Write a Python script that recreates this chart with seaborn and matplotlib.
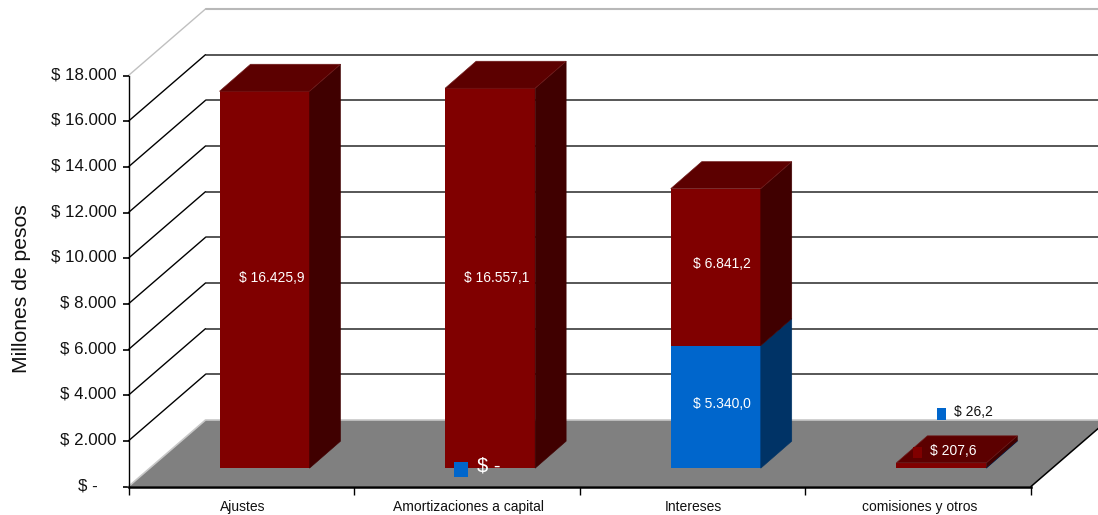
import matplotlib
matplotlib.use("Agg")
import matplotlib.pyplot as plt
from matplotlib.patches import Rectangle
from matplotlib.transforms import ScaledTranslation
import numpy as np
import pandas as pd
import seaborn as sns

# Values in millions of pesos
categories = ["Ajustes", "Amortizaciones a capital", "Intereses", "comisiones y otros"]
blue_values = [0.0, 0.0, 5340.0, 26.2]
red_values = [16425.9, 16557.1, 6841.2, 207.6]
y_ticks = [0, 2000, 4000, 6000, 8000, 10000, 12000, 14000, 16000, 18000]
y_tick_labels = ["$ -    ", "$ 2.000", "$ 4.000", "$ 6.000", "$ 8.000", "$ 10.000",
                 "$ 12.000", "$ 14.000", "$ 16.000", "$ 18.000"]

RED, RED_SIDE, RED_TOP = "#800000", "#400000", "#5c0000"
BLUE, BLUE_SIDE, BLUE_TOP = "#0066cc", "#003366", "#004c99"
FLOOR = "#808080"
W, H = 1098, 515

sns.set_theme(style="white")
plt.rcParams["font.family"] = ["Liberation Sans", "DejaVu Sans"]

fig = plt.figure(figsize=(W / 100, H / 100), dpi=100, facecolor="white")
x_left, x_right, y_zero, y_top = 128.5, 1031.0, 486.5, 75.5
ax = fig.add_axes([x_left / W, 1 - y_zero / H, (x_right - x_left) / W, (y_zero - y_top) / H])
ax.patch.set_visible(False)

# Pixel sizes of the oblique projection, converted to data units
px_x = 4 / (x_right - x_left)
px_y = 18000 / (y_zero - y_top)
wall_dx, wall_dy = 77 * px_x, 66.5 * px_y
bar_dx, bar_dy = 31 * px_x, 27 * px_y
bar_base = 18.3 * px_y
bar_shift = 0.5 + 23.2 * px_x
bar_width = 90 * px_x
front_scale = 1.005

# Back wall, side wall and floor
for i, v in enumerate(y_ticks[1:]):
    top = v == y_ticks[-1]
    col = "#b8b8b8" if top else "#282828"
    ax.plot([0, wall_dx], [v, v + wall_dy], color="#c0c0c0" if top else "black",
            lw=1.0, clip_on=False, zorder=0.5)
    ax.plot([wall_dx, 4 + wall_dx], [v + wall_dy] * 2, color=col,
            lw=1.5 if top else 1.1, clip_on=False, zorder=0.5)
ax.fill([0, wall_dx, 4 + wall_dx, 4], [0, wall_dy, wall_dy, 0], color=FLOOR, lw=0,
        clip_on=False, zorder=0.6)
ax.plot([0, wall_dx, 4 + wall_dx], [0, wall_dy, wall_dy], color="#c8c8c8", lw=1.2,
        clip_on=False, zorder=0.7)
ax.plot([4, 4 + wall_dx], [0, wall_dy], color="black", lw=1.1, clip_on=False, zorder=0.7)

# Front faces of the stacked columns
centers = np.arange(len(categories)) + bar_shift
blue = np.array(blue_values) * front_scale
red = np.array(red_values) * front_scale
df = pd.DataFrame({"x": centers, "azul": blue, "rojo": red})
common = dict(x="x", native_scale=True, width=bar_width, saturation=1, errorbar=None,
              linewidth=0, zorder=3, ax=ax)
sns.barplot(data=df, y="azul", color=BLUE, bottom=np.full(len(df), bar_base), **common)
sns.barplot(data=df, y="rojo", color=RED, bottom=bar_base + blue, **common)


def side_face(cx, low, high, color):
    x1 = cx + bar_width / 2
    ax.fill([x1, x1 + bar_dx, x1 + bar_dx, x1], [low, low + bar_dy, high + bar_dy, high],
            facecolor=color, edgecolor=color, lw=0.4, clip_on=False, zorder=3)


def top_face(cx, level, color):
    x0, x1 = cx - bar_width / 2, cx + bar_width / 2
    ax.fill([x0, x1, x1 + bar_dx, x0 + bar_dx], [level, level, level + bar_dy, level + bar_dy],
            facecolor=color, edgecolor="#6e1a1a", lw=0.5, clip_on=False, zorder=3.1)


for cx, b, r in zip(centers, blue, red):
    if b > 0:
        side_face(cx, bar_base, bar_base + b, BLUE_SIDE)
    side_face(cx, bar_base + b, bar_base + b + r, RED_SIDE)
    top_face(cx, bar_base + b + r, RED_TOP)

# Axes, ticks and labels
ax.set_xlim(0, 4)
ax.set_ylim(0, 18000)
ax.set_xlabel("")
ax.set_ylabel("")
ax.set_yticks(y_ticks, y_tick_labels, fontsize=12.2, color="#111111")
ax.set_xticks(range(5), [""] * 5)
ax.set_xticks(np.arange(4) + 0.5, categories, minor=True, fontsize=10, color="#111111")
ax.tick_params(axis="y", which="major", left=True, length=4.5, width=1.2, color="black", pad=4)
ax.tick_params(axis="x", which="major", bottom=True, length=5.5, width=1.0, color="black")
ax.tick_params(axis="x", which="minor", bottom=False, length=0, pad=9.6)
for name, spine in ax.spines.items():
    spine.set_visible(name in ("left", "bottom"))
    spine.set_color("black")
ax.spines["left"].set_linewidth(1.0)
ax.spines["bottom"].set_linewidth(1.8)

# Raise the value-axis labels slightly above their ticks, nudge category labels right
raise_y = ScaledTranslation(0, 2.2 / 100, fig.dpi_scale_trans)
for tick_label in ax.get_yticklabels():
    tick_label.set_transform(tick_label.get_transform() + raise_y)
nudge_x = ScaledTranslation(1.2 / 100, 0, fig.dpi_scale_trans)
for tick_label in ax.get_xticklabels(minor=True):
    tick_label.set_transform(tick_label.get_transform() + nudge_x)


def fig_pos(x, y):
    return x / W, 1 - y / H


def label(x, y, text, color="white", size=10.0):
    fig.text(*fig_pos(x, y), text, color=color, fontsize=size, ha="left", va="center")


def key_square(x0, y0, x1, y1, color):
    left, bottom = fig_pos(x0, y1)
    fig.add_artist(Rectangle((left, bottom), (x1 - x0) / W, (y1 - y0) / H, facecolor=color,
                             edgecolor="none", transform=fig.transFigure, zorder=5))


fig.text(*fig_pos(22, 289), "Millones de pesos", rotation=90, fontsize=15.2, color="#111111",
         ha="center", va="center")

label(239, 277.5, "$ 16.425,9")
label(464, 277.5, "$ 16.557,1")
label(693, 263.5, "$ 6.841,2")
label(693, 403.5, "$ 5.340,0")
label(930, 451, "$ 207,6")
label(954, 411.5, "$ 26,2", color="#111111")
label(477, 466, "$ -", size=14.5)
key_square(454, 462, 467.5, 477, BLUE)
key_square(937, 408, 946, 419.5, BLUE)
key_square(913, 447, 922, 458, RED)

fig.savefig("out.png", dpi=100, facecolor="white")
